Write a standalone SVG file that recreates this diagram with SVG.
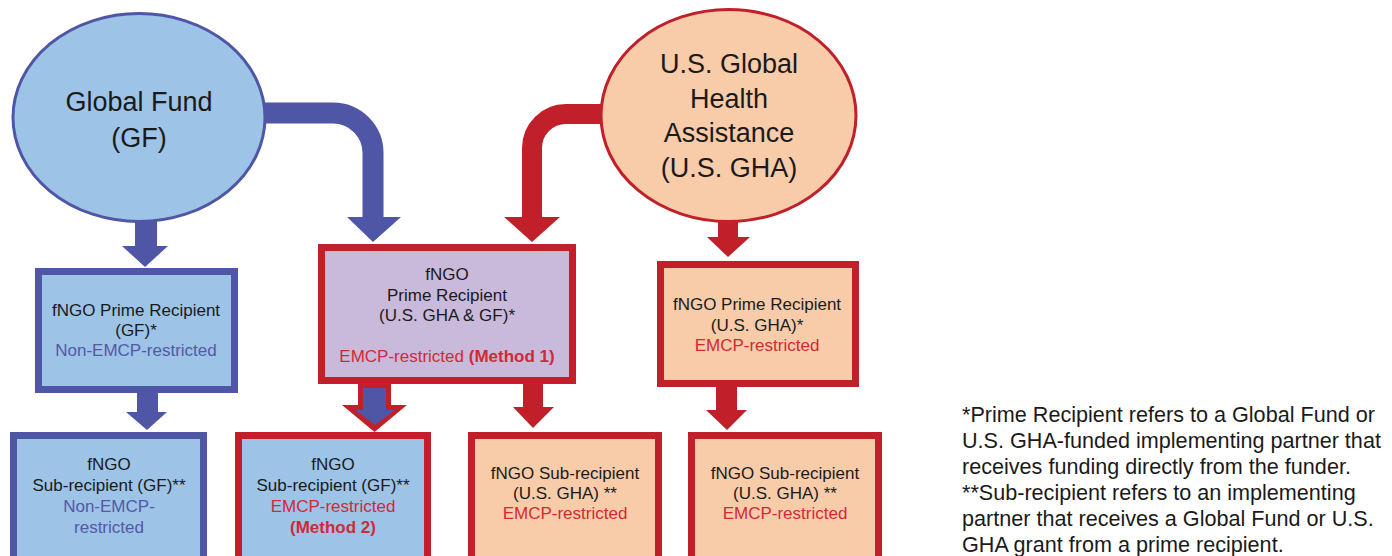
<svg xmlns="http://www.w3.org/2000/svg" width="1392" height="556" viewBox="0 0 1392 556">
<style>
text{font-family:"Liberation Sans",Arial,Helvetica,sans-serif;fill:#1a1a1a;text-anchor:middle}
.big{font-size:27px}
.sm{font-size:17px}
.note{font-size:21.6px;text-anchor:start}
.bt{fill:#5259a8}
.rt{fill:#d02a38}
.b{font-weight:bold}
.boxB{fill:#9dc3e6;stroke:#4f56a6;stroke-width:7}
.boxR{stroke:#c1202a;stroke-width:7}
.fb{fill:#9dc3e6}.fp{fill:#f8cba9}.fl{fill:#c9b9db}
.lb{fill:none;stroke:#4f56a6;stroke-width:21}
.lr{fill:none;stroke:#c1202a;stroke-width:20}
.hb{fill:#4f56a6}
.hr{fill:#c1202a}
</style>
<g id="connectors">
<path class="lb" d="M250,113 H333 A40,40 0 0 1 373,153 V218"/>
<polygon class="hb" points="347,217 401,217 373,242"/>
<path class="lr" d="M620,114 H566 A34,34 0 0 0 532,148 V218"/>
<polygon class="hr" points="504,217 560,217 532,242"/>
<rect class="hb" x="135" y="215" width="22" height="32"/>
<polygon class="hb" points="122,246 168,246 145,267"/>
<rect class="hb" x="137" y="390" width="21" height="23"/>
<polygon class="hb" points="126,412 167,412 147,430"/>
<rect class="hr" x="718" y="215" width="20" height="23"/>
<polygon class="hr" points="707,237 750,237 728,257"/>
<rect class="hr" x="716" y="384" width="21" height="27"/>
<polygon class="hr" points="706,410 747,410 727,430"/>
<rect class="hr" x="523" y="380" width="20" height="28"/>
<polygon class="hr" points="513,407 554,407 533,428"/>
<polygon class="hr" points="358,380 391,380 391,405 407,405 374.5,432 342,405 358,405"/>
<polygon class="hb" points="363,388 386,388 386,410 395,410 375,425 355,410 363,410"/>
</g>
<g id="gf">
<ellipse cx="139" cy="117.5" rx="126" ry="104" fill="#9dc3e6" stroke="#4f56a6" stroke-width="3"/>
<text class="big" x="139" y="111">Global Fund</text>
<text class="big" x="139" y="147">(GF)</text>
</g>
<g id="gha">
<ellipse cx="728.5" cy="115.5" rx="127.5" ry="106" fill="#f8cba9" stroke="#c1202a" stroke-width="3"/>
<text class="big" x="729" y="73">U.S. Global</text>
<text class="big" x="729" y="108">Health</text>
<text class="big" x="729" y="142">Assistance</text>
<text class="big" x="729" y="177">(U.S. GHA)</text>
</g>
<g id="gf-prime">
<rect class="boxB" x="38.5" y="271.5" width="196" height="118"/>
<text class="sm" x="136" y="316">fNGO Prime Recipient</text>
<text class="sm" x="136" y="336">(GF)*</text>
<text class="sm bt" x="136" y="356">Non-EMCP-restricted</text>
</g>
<g id="joint-prime">
<rect class="boxR fl" x="321.5" y="247.5" width="251" height="133"/>
<text class="sm" x="447" y="280">fNGO</text>
<text class="sm" x="447" y="301">Prime Recipient</text>
<text class="sm" x="447" y="321">(U.S. GHA &amp; GF)*</text>
<text class="sm rt" x="447" y="362">EMCP-restricted <tspan class="b">(Method 1)</tspan></text>
</g>
<g id="gha-prime">
<rect class="boxR fp" x="660.5" y="264.5" width="195" height="119"/>
<text class="sm" x="757" y="310">fNGO Prime Recipient</text>
<text class="sm" x="757" y="331">(U.S. GHA)*</text>
<text class="sm rt" x="757" y="351">EMCP-restricted</text>
</g>
<g id="gf-sub">
<rect class="boxB" x="13.5" y="435.5" width="190" height="135"/>
<text class="sm" x="109" y="470">fNGO</text>
<text class="sm" x="109" y="491">Sub-recipient (GF)**</text>
<text class="sm bt" x="109" y="512">Non-EMCP-</text>
<text class="sm bt" x="109" y="533">restricted</text>
</g>
<g id="gf-sub-m2">
<rect class="boxR fb" x="238.5" y="435.5" width="189" height="135"/>
<text class="sm" x="333" y="470">fNGO</text>
<text class="sm" x="333" y="491">Sub-recipient (GF)**</text>
<text class="sm rt" x="333" y="512">EMCP-restricted</text>
<text class="sm rt b" x="333" y="533">(Method 2)</text>
</g>
<g id="gha-sub-1">
<rect class="boxR fp" x="471.5" y="435.5" width="187" height="135"/>
<text class="sm" x="565" y="479">fNGO Sub-recipient</text>
<text class="sm" x="565" y="499">(U.S. GHA) **</text>
<text class="sm rt" x="565" y="519">EMCP-restricted</text>
</g>
<g id="gha-sub-2">
<rect class="boxR fp" x="691.5" y="435.5" width="187" height="135"/>
<text class="sm" x="785" y="479">fNGO Sub-recipient</text>
<text class="sm" x="785" y="499">(U.S. GHA) **</text>
<text class="sm rt" x="785" y="519">EMCP-restricted</text>
</g>
<g id="footnote">
<text class="note" x="962" y="422">*Prime Recipient refers to a Global Fund or</text>
<text class="note" x="962" y="448">U.S. GHA-funded implementing partner that</text>
<text class="note" x="962" y="474">receives funding directly from the funder.</text>
<text class="note" x="962" y="500">**Sub-recipient refers to an implementing</text>
<text class="note" x="962" y="526">partner that receives a Global Fund or U.S.</text>
<text class="note" x="962" y="552">GHA grant from a prime recipient.</text>
</g>
</svg>
